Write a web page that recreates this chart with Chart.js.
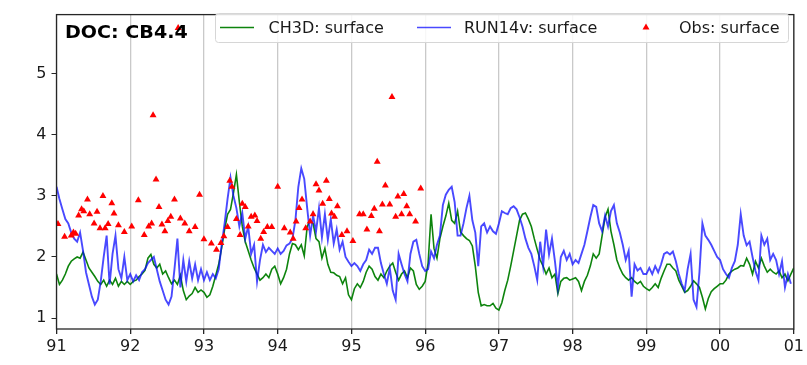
<!DOCTYPE html>
<html>
<head>
<meta charset="utf-8">
<script src="https://cdn.jsdelivr.net/npm/chart.js@4.4.1/dist/chart.umd.min.js"></script>
<style>
html,body{margin:0;padding:0;background:#fff;}
canvas{display:block;}
</style>
</head>
<body>
<canvas id="c" width="807" height="365"></canvas>
<script>
// ---- data ----
const chartTitle = 'DOC: CB4.4';
const seriesNames = ['CH3D: surface', 'RUN14v: surface', 'Obs: surface'];
const xTickValues = [91, 92, 93, 94, 95, 96, 97, 98, 99, 100, 101];
const xTickLabels = ['91', '92', '93', '94', '95', '96', '97', '98', '99', '00', '01'];
const yTickValues = [1, 2, 3, 4, 5];
const startYear = 91;
const stepYear = 0.04;

const ch3d = [
  1.72,1.55,1.62,1.72,1.85,1.93,1.97,2.0,1.98,2.08,1.95,1.82,1.75,1.68,1.6,1.55,1.62,1.52,1.62,1.55,1.65,1.52,1.6,1.55,1.6,
  1.55,1.6,1.62,1.68,1.72,1.78,1.98,2.04,1.88,1.82,1.88,1.72,1.77,1.66,1.56,1.62,1.55,1.7,1.45,1.3,1.36,1.4,1.5,1.42,1.46,
  1.42,1.34,1.38,1.52,1.7,1.88,2.15,2.45,2.7,2.78,3.05,3.35,2.9,2.5,2.25,2.1,1.95,1.82,1.72,1.62,1.66,1.72,1.66,1.8,1.85,
  1.72,1.56,1.66,1.8,2.05,2.22,2.2,2.12,2.2,2.02,2.5,2.6,2.55,2.3,2.25,1.98,2.14,1.88,1.75,1.74,1.7,1.68,1.56,1.66,1.38,
  1.3,1.48,1.56,1.5,1.6,1.75,1.85,1.8,1.68,1.62,1.72,1.66,1.77,1.85,1.9,1.75,1.62,1.72,1.77,1.66,1.82,1.77,1.55,1.47,1.52,
  1.6,1.9,2.7,2.14,1.98,2.3,2.5,2.67,2.88,2.6,2.55,2.75,2.41,2.35,2.3,2.27,2.18,1.85,1.42,1.2,1.22,1.2,1.2,1.24,1.16,
  1.13,1.25,1.45,1.62,1.85,2.1,2.35,2.6,2.7,2.72,2.62,2.5,2.3,2.12,1.95,1.85,1.72,1.82,1.66,1.72,1.4,1.6,1.65,1.66,1.62,
  1.64,1.66,1.6,1.45,1.6,1.7,1.85,2.05,1.98,2.05,2.35,2.65,2.78,2.42,2.2,1.95,1.82,1.72,1.66,1.62,1.66,1.6,1.56,1.6,1.52,
  1.48,1.45,1.5,1.56,1.5,1.65,1.77,1.88,1.88,1.82,1.77,1.62,1.52,1.42,1.45,1.52,1.61,1.56,1.5,1.34,1.15,1.32,1.43,1.48,1.52,
  1.56,1.56,1.62,1.72,1.77,1.8,1.82,1.86,1.85,1.98,1.88,1.72,1.93,1.82,1.98,1.85,1.75,1.8,1.75,1.72,1.77,1.66,1.72,1.61,1.72,
  1.82
];

const run14v = [
  3.15,2.95,2.78,2.62,2.55,2.4,2.3,2.25,2.4,2.1,1.75,1.55,1.35,1.22,1.3,1.6,2.0,2.35,1.55,2.05,2.35,1.8,1.65,2.0,1.62,
  1.72,1.6,1.7,1.62,1.75,1.8,1.9,1.95,2.0,1.8,1.6,1.45,1.3,1.22,1.35,1.8,2.3,1.5,1.95,1.6,1.93,1.65,1.88,1.62,1.8,
  1.62,1.75,1.62,1.72,1.65,1.8,2.2,2.55,2.95,3.3,3.0,2.8,2.5,2.72,2.3,2.5,2.05,2.2,1.6,1.95,2.2,2.08,2.15,2.1,2.05,
  2.14,2.05,2.1,2.19,2.22,2.3,2.6,3.15,3.45,3.28,2.8,2.35,2.68,2.42,2.8,2.32,2.7,2.28,2.62,2.22,2.45,2.12,2.25,2.0,1.92,
  1.85,1.9,1.85,1.77,1.88,1.95,2.12,2.05,2.15,2.15,1.9,1.72,1.56,1.82,1.45,1.3,2.05,1.88,1.72,1.6,2.05,2.25,2.28,2.05,1.85,
  1.77,1.8,2.09,1.98,2.2,2.35,2.85,3.02,3.1,3.15,2.9,2.35,2.35,2.55,2.8,3.0,2.6,2.4,1.85,2.5,2.55,2.4,2.5,2.42,2.38,
  2.55,2.75,2.72,2.7,2.8,2.83,2.78,2.65,2.5,2.3,2.15,2.05,1.85,1.62,2.25,1.85,2.45,2.04,2.3,1.93,1.5,2.0,2.1,1.95,2.05,
  1.88,1.95,1.9,2.05,2.2,2.42,2.65,2.85,2.82,2.55,2.42,2.68,2.5,2.75,2.85,2.55,2.4,2.2,1.95,2.1,1.35,1.88,1.78,1.82,1.72,
  1.72,1.82,1.72,1.85,1.75,1.88,2.05,2.08,2.04,2.09,1.93,1.72,1.56,1.45,1.8,2.05,1.3,1.18,1.75,2.55,2.35,2.28,2.2,2.1,2.0,
  1.95,1.8,1.72,1.66,1.82,1.93,2.2,2.7,2.35,2.19,2.25,2.0,1.77,1.62,2.35,2.2,2.3,1.95,2.05,1.95,1.72,1.93,1.5,1.72,1.56,
  null
];

const obsT = [
  91.02,91.11,91.20,91.23,91.26,91.30,91.34,91.37,91.42,91.45,91.51,91.55,91.59,91.63,91.66,91.70,91.75,91.78,91.84,91.92,
  92.02,92.11,92.19,92.25,92.29,92.31,92.35,92.39,92.43,92.47,92.51,92.55,92.60,92.65,92.68,92.74,92.80,92.88,92.94,
  93.00,93.10,93.17,93.23,93.27,93.32,93.35,93.38,93.44,93.49,93.52,93.56,93.60,93.64,93.69,93.72,93.77,93.81,93.86,93.92,
  94.00,94.09,94.17,94.21,94.25,94.29,94.33,94.38,94.44,94.48,94.52,94.56,94.61,94.66,94.70,94.73,94.77,94.81,94.87,94.94,
  95.02,95.11,95.16,95.21,95.27,95.31,95.35,95.38,95.42,95.46,95.52,95.55,95.60,95.63,95.68,95.71,95.75,95.79,95.87,95.94
];
const obsV = [
  2.54,2.33,2.35,2.40,2.38,2.68,2.78,2.75,2.94,2.70,2.55,2.74,2.47,3.00,2.47,2.54,2.88,2.71,2.52,2.41,
  2.50,2.93,2.36,2.50,2.55,4.32,3.27,2.82,2.53,2.42,2.59,2.66,2.94,5.75,2.63,2.55,2.42,2.49,3.02,
  2.29,2.22,2.12,2.23,2.34,2.49,3.25,3.15,2.62,2.36,2.87,2.82,2.50,2.66,2.68,2.59,2.30,2.41,2.49,2.49,
  3.15,2.47,2.40,2.30,2.58,2.80,2.94,2.47,2.58,2.70,3.19,3.09,2.87,3.25,2.95,2.71,2.66,2.83,2.36,2.42,
  2.26,2.70,2.70,2.45,2.67,2.79,3.56,2.42,2.86,3.17,2.86,4.62,2.66,2.99,2.70,3.03,2.83,2.70,2.58,3.12
];

// ---- build ----
const toPts = arr => arr.map((v, i) => ({ x: +(startYear + i * stepYear).toFixed(2), y: v }));
const obsPts = obsT.map((t, i) => ({ x: t, y: obsV[i] }));

const FONT = 'DejaVu Sans';
const GREEN = 'rgba(0,125,0,0.95)';
const BLUE = 'rgba(10,10,255,0.74)';
const RED = '#ff0000';

const overlay = {
  id: 'overlay',
  afterDraw(chart) {
    const ctx = chart.ctx, a = chart.chartArea;
    ctx.save();
    // frame
    ctx.strokeStyle = '#262626';
    ctx.lineWidth = 1.3;
    ctx.strokeRect(a.left, a.top, a.right - a.left, a.bottom - a.top);
    // title
    ctx.fillStyle = '#000';
    ctx.font = 'bold 18px "' + FONT + '"';
    ctx.textBaseline = 'alphabetic';
    ctx.textAlign = 'left';
    ctx.save();
    ctx.translate(65, 37.8);
    ctx.scale(1.06, 1);
    ctx.fillText(chartTitle, 0, 0);
    ctx.restore();
    // legend box
    const bx = 215, by = 13, bw = 573, bh = 29;
    ctx.beginPath();
    ctx.roundRect(bx + 0.5, by + 0.5, bw, bh, 3);
    ctx.fillStyle = 'rgba(255,255,255,0.85)';
    ctx.fill();
    ctx.strokeStyle = '#d6d6d6';
    ctx.lineWidth = 1;
    ctx.stroke();
    const cy = 27.5;
    const ds = chart.data.datasets;
    const entries = [
      { kind: 'line', x0: 220, x1: 254, tx: 268.5, ds: ds[0] },
      { kind: 'line', x0: 417, x1: 451, tx: 464, ds: ds[1] },
      { kind: 'tri', x0: 646, tx: 679, ds: ds[2] }
    ];
    ctx.font = '16px "' + FONT + '"';
    ctx.textBaseline = 'middle';
    for (const e of entries) {
      if (e.kind === 'line') {
        ctx.beginPath();
        ctx.moveTo(e.x0, cy);
        ctx.lineTo(e.x1, cy);
        ctx.strokeStyle = e.ds.borderColor;
        ctx.lineWidth = 1.5;
        ctx.stroke();
      } else {
        const r = 4;
        ctx.beginPath();
        ctx.moveTo(e.x0, cy - r);
        ctx.lineTo(e.x0 + r * 0.87, cy + r * 0.5);
        ctx.lineTo(e.x0 - r * 0.87, cy + r * 0.5);
        ctx.closePath();
        ctx.fillStyle = RED;
        ctx.fill();
      }
      ctx.fillStyle = '#1a1a1a';
      ctx.fillText(e.ds.label, e.tx, cy + 1);
    }
    ctx.restore();
  }
};

new Chart(document.getElementById('c'), {
  type: 'line',
  data: {
    datasets: [
      { label: seriesNames[0], data: toPts(ch3d), borderColor: GREEN, borderWidth: 1.6,
        pointRadius: 0, tension: 0, order: 3, spanGaps: false },
      { label: seriesNames[1], data: toPts(run14v), borderColor: BLUE, borderWidth: 1.9,
        pointRadius: 0, tension: 0, order: 2, spanGaps: false },
      { label: seriesNames[2], data: obsPts, showLine: false, pointStyle: 'triangle',
        pointRadius: 4, backgroundColor: RED, borderColor: RED, borderWidth: 0, order: 1 }
    ]
  },
  options: {
    responsive: false,
    animation: false,
    devicePixelRatio: 1,
    layout: { padding: { left: 0, right: 10.5, top: 6, bottom: 0 } },
    plugins: { legend: { display: false }, tooltip: { enabled: false }, title: { display: false } },
    scales: {
      x: {
        type: 'linear', min: 91, max: 101,
        afterBuildTicks: s => { s.ticks = xTickValues.map(v => ({ value: v })); },
        afterFit: s => { s.height = 36; },
        ticks: {
          autoSkip: false, maxRotation: 0, color: '#1a1a1a', padding: 3,
          font: { family: FONT, size: 16 },
          callback: v => xTickLabels[xTickValues.indexOf(Math.round(v))]
        },
        grid: { color: '#c9c9c9', lineWidth: 1.3, tickColor: '#262626', tickLength: 5, drawTicks: true },
        border: { display: false }
      },
      y: {
        type: 'linear', min: 0.82, max: 5.97,
        afterBuildTicks: s => { s.ticks = yTickValues.map(v => ({ value: v })); },
        afterFit: s => { s.width = 56.5; },
        ticks: {
          color: '#1a1a1a', padding: 5,
          font: { family: FONT, size: 16 }
        },
        grid: { drawOnChartArea: false, tickColor: '#262626', tickLength: 5, drawTicks: true },
        border: { display: false }
      }
    }
  },
  plugins: [overlay]
});
</script>
</body>
</html>
